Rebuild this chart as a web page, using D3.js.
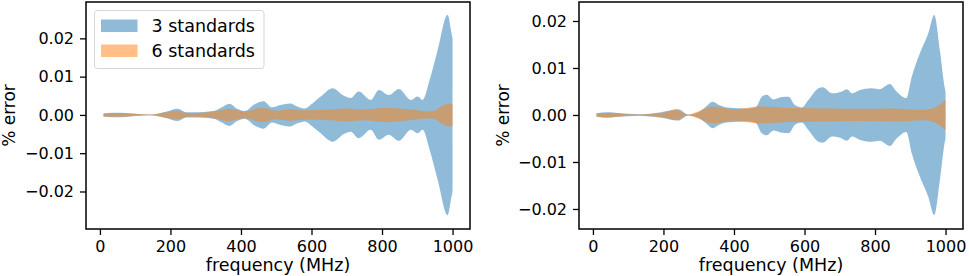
<!DOCTYPE html>
<html><head><meta charset="utf-8">
<script src="https://cdn.jsdelivr.net/npm/d3@7"></script>
<style>
body{margin:0;background:#fff;}
svg{display:block;font-family:"DejaVu Sans",sans-serif;}
</style></head>
<body><svg id="c" width="969" height="276"></svg>
<script>
// ---- data: envelope (frequency MHz, ± % error amplitude) ----
const freqTicks = [0, 200, 400, 600, 800, 1000];
const yTicks = [-0.02, -0.01, 0, 0.01, 0.02];
const seriesNames = ["3 standards", "6 standards"];

const leftFreq3 = [10,38,60,100,142,190,220,245,284,322,346,367,389,410,441,464,488,512,540,560,580,605,626,660,692,711,734,768,791,819,848,882,901,915,935,958,986,997,1000];
const leftAmp3  = [0.0004,0.0006,0.0006,0.0003,0.0001,0.0009,0.0016,0.0007,0.0007,0.001,0.002,0.0029,0.0016,0.001,0.0029,0.0036,0.002,0.0026,0.003,0.0022,0.0017,0.0032,0.0048,0.007,0.005,0.0044,0.0061,0.0039,0.0065,0.0052,0.0068,0.0039,0.0048,0.0039,0.0091,0.017,0.0262,0.0214,0.02];
const leftFreq6 = [10,57,100,142,180,218,250,290,330,365,410,460,500,540,580,650,700,750,810,880,940,975,988,1000];
const leftAmp6  = [0.0004,0.0005,0.0003,0.0001,0.0006,0.0011,0.0005,0.0006,0.001,0.0016,0.0009,0.0019,0.0011,0.0015,0.0012,0.0014,0.0017,0.0014,0.0019,0.0014,0.0009,0.0025,0.003,0.0028];

const rightFreq3 = [10,43,71,128,194,242,270,299,318,340,358,379,441,462,479,493,512,536,555,573,592,611,640,652,678,706,720,735,754,791,813,842,861,889,904,927,951,968,984,998,1000];
const rightAmp3  = [0.00035,0.0006,0.0004,0.00015,0.0006,0.0012,0.0001,0.0006,0.0016,0.0028,0.0021,0.0016,0.0014,0.0017,0.0039,0.0043,0.0033,0.0038,0.0039,0.0021,0.0016,0.0032,0.0057,0.0059,0.0046,0.005,0.0055,0.0046,0.0052,0.0057,0.0055,0.0066,0.005,0.0036,0.0081,0.0131,0.0174,0.0213,0.0138,0.0057,0.005];
const rightFreq6 = [10,50,110,200,235,268,300,340,400,470,560,660,750,850,940,975,1000];
const rightAmp6  = [0.0003,0.0005,0.0001,0.0005,0.0011,0.0001,0.0008,0.0018,0.0012,0.0018,0.0015,0.0014,0.0013,0.0014,0.0011,0.0018,0.0032];

const colors = ["#1f77b4", "#ff7f0e"];
const TICK_FS = 16, LABEL_FS = 17.5;

const svg = d3.select("#c");

function panel(cfg) {
  const {x0, x1, y0, y1, yDomain, s3, s6, legend, labelX} = cfg;
  const x = d3.scaleLinear().domain([-39.5, 1049.5]).range([x0, x1]);
  const y = d3.scaleLinear().domain(yDomain).range([y1, y0]);
  const g = svg.append("g");
  const clipId = "clip" + x0;
  g.append("clipPath").attr("id", clipId).append("rect")
    .attr("x", x0).attr("y", y0).attr("width", x1 - x0).attr("height", y1 - y0);
  const area = d3.area().x(d => x(d[0])).y0(d => y(-d[1])).y1(d => y(d[1])).curve(d3.curveMonotoneX);
  [s3, s6].forEach((s, i) => {
    const pts = s[0].map((f, k) => [f, s[1][k]]);
    g.append("path").attr("clip-path", `url(#${clipId})`).attr("d", area(pts))
      .attr("fill", colors[i]).attr("fill-opacity", 0.5);
  });
  const xa = g.append("g").attr("transform", `translate(0,${y1})`)
    .call(d3.axisBottom(x).tickValues(freqTicks).tickSize(6).tickPadding(6).tickFormat(d3.format("d")));
  const ya = g.append("g").attr("transform", `translate(${x0},0)`)
    .call(d3.axisLeft(y).tickValues(yTicks).tickSize(6).tickPadding(6)
      .tickFormat(d => d === 0 ? "0.00" : d3.format(".2f")(d).replace("-", "\u2212")));
  [xa, ya].forEach(a => {
    a.attr("font-family", null).attr("font-size", null);
    a.select(".domain").remove();
    a.selectAll("line").attr("stroke", "#000").attr("stroke-width", 1.3);
    a.selectAll("text").attr("font-size", TICK_FS).attr("font-family", "DejaVu Sans").attr("fill", "#000");
  });
  g.append("rect").attr("x", x0).attr("y", y0).attr("width", x1 - x0).attr("height", y1 - y0)
    .attr("fill", "none").attr("stroke", "#000").attr("stroke-width", 1.5);
  g.append("text").attr("x", (x0 + x1) / 2).attr("y", 270.5).attr("text-anchor", "middle")
    .attr("font-size", LABEL_FS).text("frequency (MHz)");
  g.append("text").attr("transform", `translate(${labelX},${(y0 + y1) / 2}) rotate(-90)`)
    .attr("text-anchor", "middle").attr("font-size", 17).text("% error");
  if (legend) {
    const lg = g.append("g");
    lg.append("rect").attr("x", 94.5).attr("y", 10.5).attr("width", 169.5).attr("height", 58)
      .attr("rx", 3).attr("fill", "#fff").attr("fill-opacity", 0.8).attr("stroke", "#d6d6d6");
    seriesNames.forEach((n, i) => {
      lg.append("rect").attr("x", 101).attr("y", 19.5 + i * 25).attr("width", 36.5).attr("height", 12.5)
        .attr("fill", colors[i]).attr("fill-opacity", 0.5);
      lg.append("text").attr("x", 151.5).attr("y", 32 + i * 25).attr("font-size", LABEL_FS).text(n);
    });
  }
}

panel({x0: 86, x1: 470, y0: 2, y1: 229, yDomain: [-0.0298, 0.0295],
  s3: [leftFreq3, leftAmp3], s6: [leftFreq6, leftAmp6], legend: true, labelX: 15});
panel({x0: 579, x1: 963, y0: 2, y1: 229, yDomain: [-0.02426, 0.02404],
  s3: [rightFreq3, rightAmp3], s6: [rightFreq6, rightAmp6], legend: false, labelX: 509});
</script></body></html>
